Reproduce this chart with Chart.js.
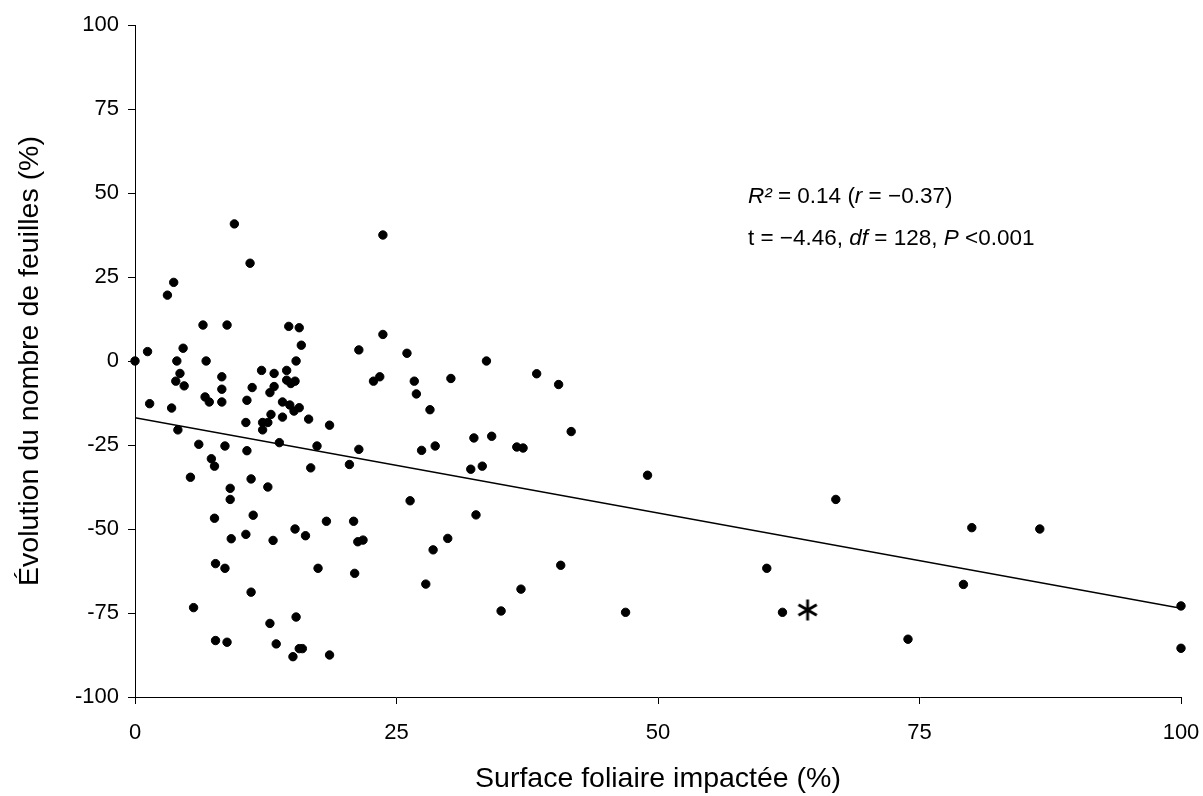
<!DOCTYPE html>
<html>
<head>
<meta charset="utf-8">
<script src="https://cdn.jsdelivr.net/npm/chart.js@4"></script>
<style>
  body { margin: 0; background: #fff; }
  #wrap { width: 1203px; height: 796px; }
</style>
</head>
<body>
<div id="wrap"><canvas id="scatterChart" width="1203" height="796"></canvas></div>
<script>
// surface foliaire impactée (%) vs évolution du nombre de feuilles (%)
const leafX = [9.5, 11.0, 3.7, 3.1, 6.5, 8.8, 14.7, 15.7, 15.9, 4.6, 1.2, 0, 4.0, 6.8, 15.4, 12.1, 13.3, 14.5, 4.3, 3.9,
  4.7, 8.3, 8.3, 11.2, 13.3, 12.9, 14.5, 14.9, 15.3,
  6.7, 7.1, 8.3, 1.4, 3.5, 10.7, 14.1, 14.8, 15.2, 15.7, 13.0, 14.1, 16.6, 18.6, 10.6, 12.2, 12.7, 12.2, 4.1, 6.1,
  8.6, 10.7, 13.8, 17.4, 7.3, 7.6, 16.8, 20.5, 5.3, 11.1, 12.7, 9.1, 9.1, 7.6, 11.3, 18.3, 20.9, 15.3, 10.6, 9.2,
  13.2, 16.3, 7.7, 8.6, 17.5,
  21.0, 11.1, 5.6, 12.9, 15.4, 7.7, 8.8, 13.5, 15.7, 16.0, 15.1, 18.6,
  23.7, 23.7, 21.4, 26.0, 33.6, 38.4, 40.5, 23.4, 22.8, 26.7, 26.9, 30.2, 28.2, 41.7, 32.4, 34.1, 21.4, 27.4, 28.7,
  36.5, 37.1,
  32.1, 33.2, 26.3, 32.6, 21.3, 21.8, 29.9, 28.5, 27.8, 40.7, 36.9, 35.0, 46.9,
  49.0, 67.0, 80.0, 86.5, 60.4, 79.2, 61.9, 73.9, 100, 100];

const leafY = [40.8, 29.1, 23.4, 19.6, 10.7, 10.7, 10.3, 9.9, 4.7, 3.8, 2.8, 0, 0, 0, 0, -2.8, -3.7, -2.8, -3.7, -6.0,
  -7.4, -4.7, -8.4, -7.9, -7.6, -9.4, -5.7, -6.7, -6.0,
  -10.7, -12.2, -12.2, -12.7, -14.0, -11.7, -12.2, -13.1, -14.9, -13.9, -15.9, -16.7, -17.3, -19.1, -18.3, -18.3,
  -18.3, -20.5, -20.5, -24.8, -25.3, -26.7, -24.3, -25.3, -29.1, -31.3, -31.8, -30.8, -34.6, -35.1, -37.5, -37.9,
  -41.2, -46.8, -45.9, -47.7, -47.7, -50.0, -51.6, -52.9, -53.4, -52.0, -60.3, -61.7, -61.7,
  -63.2, -68.8, -73.4, -78.1, -76.2, -83.2, -83.7, -84.2, -85.6, -85.6, -88.0, -87.5,
  37.5, 7.9, 3.3, 2.3, 0, -3.8, -7.0, -4.7, -6.0, -6.0, -9.8, -5.2, -14.5, -21.0, -22.9, -22.4, -26.3, -26.6, -25.3,
  -25.6, -25.9,
  -32.2, -31.3, -41.6, -45.8, -53.8, -53.3, -52.8, -56.2, -66.4, -60.8, -67.9, -74.4, -74.8,
  -34.0, -41.2, -49.6, -50.0, -61.7, -66.5, -74.8, -82.8, -72.9, -85.5];

// regression line end points
const trendX = [0, 100];
const trendY = [-16.9, -73.6];

// the point marked with an asterisk
const starX = [64.3];
const starY = [-74.1];

const xTicks = [0, 25, 50, 75, 100];
const yTicks = [-100, -75, -50, -25, 0, 25, 50, 75, 100];

// annotation: [text, italic]
const statLine1 = [["R²", true], [" = 0.14 (", false], ["r", true], [" = \u22120.37)", false]];
const statLine2 = [["t = \u22124.46, ", false], ["df", true], [" = 128, ", false], ["P", true], [" <0.001", false]];
const statPos = { x: 58.6, y1: 47.0, y2: 34.5 };

const fontFamily = "'Liberation Sans', Arial, sans-serif";

function toPoints(xs, ys) {
  return xs.map((x, i) => ({ x: x, y: ys[i] }));
}

// small 6-armed asterisk used as point style
function makeAsterisk() {
  const c = document.createElement("canvas");
  c.width = 26;
  c.height = 26;
  const g = c.getContext("2d");
  g.strokeStyle = "#000";
  g.lineWidth = 2.8;
  const r = 10.5;
  [90, 30, 150].forEach((deg) => {
    const a = (deg * Math.PI) / 180;
    g.beginPath();
    g.moveTo(13 - r * Math.cos(a), 13 - r * Math.sin(a));
    g.lineTo(13 + r * Math.cos(a), 13 + r * Math.sin(a));
    g.stroke();
  });
  return c;
}

const statsText = {
  id: "statsText",
  afterDatasetsDraw(chart) {
    const ctx = chart.ctx;
    const xs = chart.scales.x;
    const ys = chart.scales.y;
    const left = xs.getPixelForValue(statPos.x);
    const lines = [[statLine1, statPos.y1], [statLine2, statPos.y2]];
    ctx.save();
    ctx.fillStyle = "#000";
    ctx.textBaseline = "alphabetic";
    ctx.textAlign = "left";
    lines.forEach(([parts, yv]) => {
      let x = left;
      const y = ys.getPixelForValue(yv);
      parts.forEach(([txt, it]) => {
        ctx.font = (it ? "italic " : "") + "22.5px " + fontFamily;
        ctx.fillText(txt, x, y);
        x += ctx.measureText(txt).width;
      });
    });
    ctx.restore();
  },
};

const whiteBg = {
  id: "whiteBg",
  beforeDraw(chart) {
    const ctx = chart.ctx;
    ctx.save();
    ctx.fillStyle = "#fff";
    ctx.fillRect(0, 0, chart.width, chart.height);
    ctx.restore();
  },
};

const ctx = document.getElementById("scatterChart").getContext("2d");
new Chart(ctx, {
  type: "scatter",
  data: {
    datasets: [
      {
        label: "Plantes",
        data: toPoints(leafX, leafY),
        backgroundColor: "#000",
        borderColor: "#000",
        borderWidth: 1,
        pointRadius: 4.2,
        clip: false,
      },
      {
        label: "Régression",
        type: "line",
        data: toPoints(trendX, trendY),
        borderColor: "#000",
        borderWidth: 1.6,
        pointRadius: 0,
        fill: false,
      },
      {
        label: "Astérisque",
        data: toPoints(starX, starY),
        pointStyle: makeAsterisk(),
        pointRadius: 10,
        clip: false,
      },
    ],
  },
  options: {
    responsive: false,
    animation: false,
    devicePixelRatio: 1,
    layout: { padding: { left: 0, right: 22, top: 25, bottom: 0 } },
    plugins: {
      legend: { display: false },
      tooltip: { enabled: false },
    },
    scales: {
      x: {
        type: "linear",
        min: 0,
        max: 100,
        afterBuildTicks: (scale) => {
          scale.ticks = xTicks.map((v) => ({ value: v }));
        },
        afterFit: (scale) => {
          scale.height = 99;
          scale.paddingLeft = 0;
          scale.paddingRight = 0;
        },
        ticks: {
          color: "#000",
          font: { family: fontFamily, size: 22 },
          padding: 16,
        },
        grid: { drawOnChartArea: false, drawTicks: true, tickLength: 7, color: "#000" },
        border: { display: true, color: "#000", width: 1 },
        title: {
          display: true,
          text: "Surface foliaire impactée (%)",
          color: "#000",
          font: { family: fontFamily, size: 28.5 },
          padding: { top: 0, bottom: 0 },
        },
      },
      y: {
        type: "linear",
        min: -100,
        max: 100,
        afterBuildTicks: (scale) => {
          scale.ticks = yTicks.map((v) => ({ value: v }));
        },
        afterFit: (scale) => {
          scale.width = 135;
          scale.paddingTop = 0;
          scale.paddingBottom = 0;
        },
        ticks: {
          color: "#000",
          font: { family: fontFamily, size: 22 },
          padding: 9,
        },
        grid: { drawOnChartArea: false, drawTicks: true, tickLength: 7, color: "#000" },
        border: { display: true, color: "#000", width: 1 },
        title: {
          display: true,
          text: "Évolution du nombre de feuilles (%)",
          color: "#000",
          font: { family: fontFamily, size: 28.5 },
          padding: { top: 13, bottom: 0 },
        },
      },
    },
  },
  plugins: [whiteBg, statsText],
});
</script>
</body>
</html>
